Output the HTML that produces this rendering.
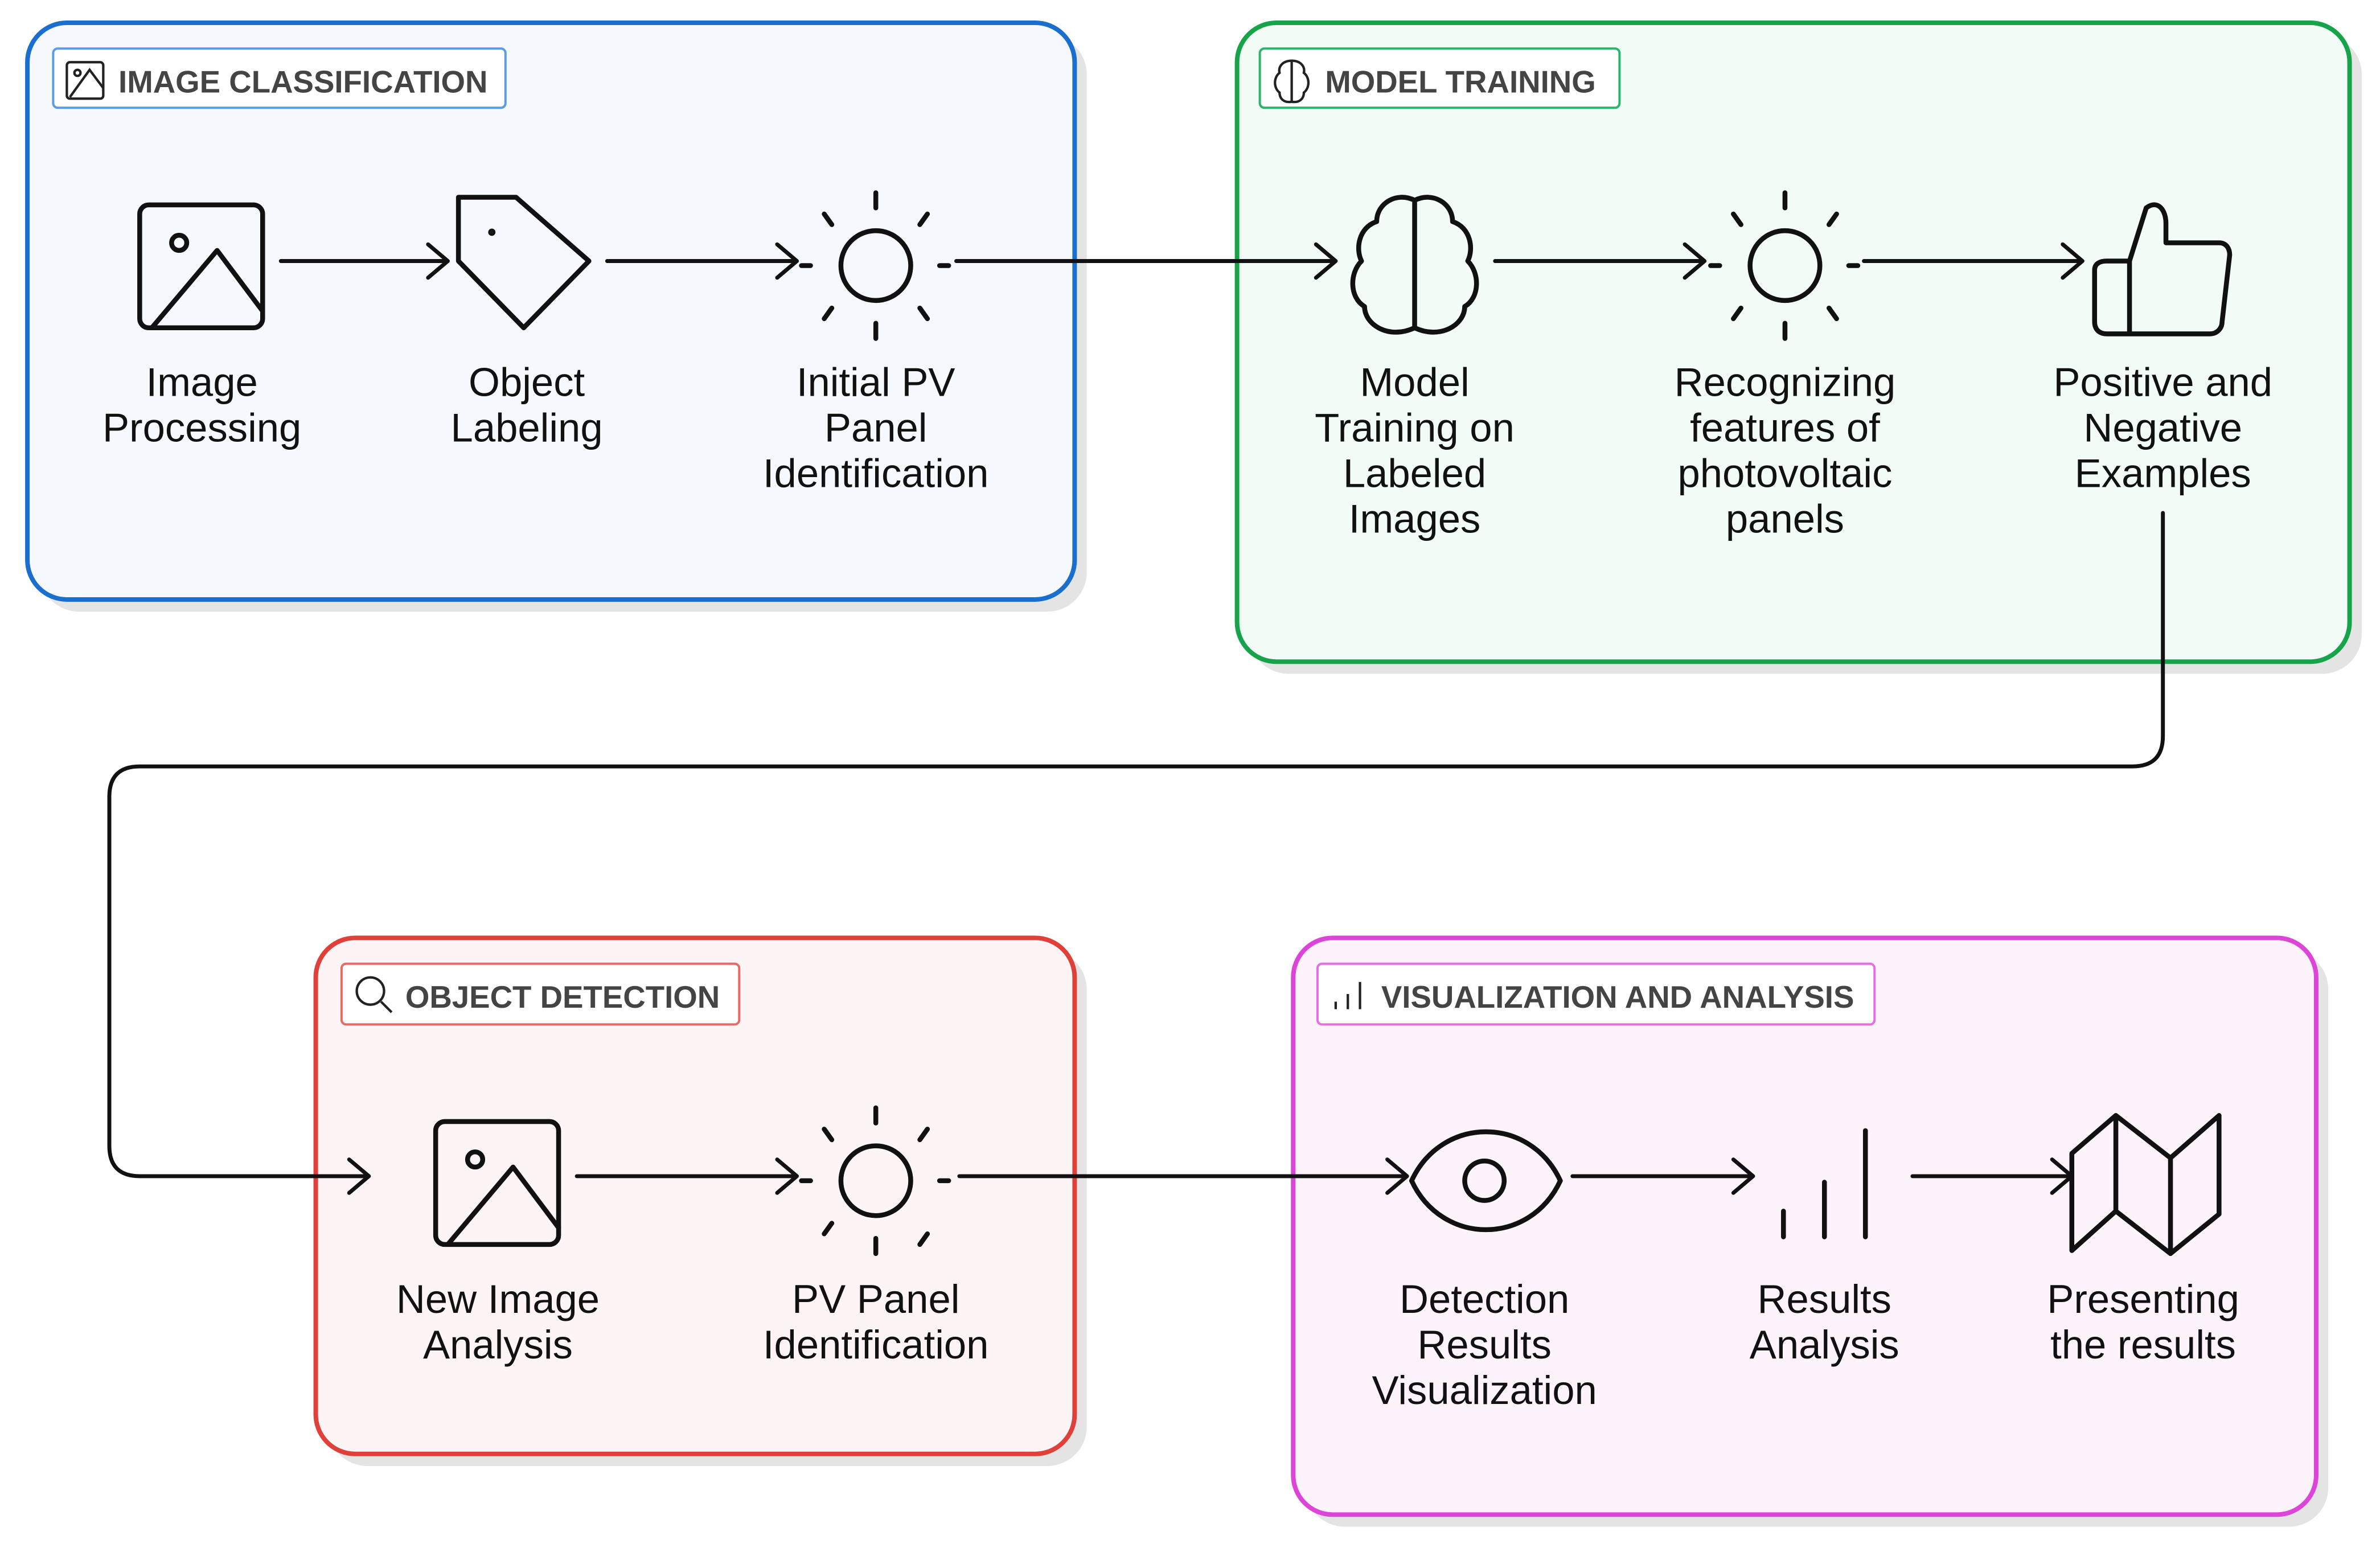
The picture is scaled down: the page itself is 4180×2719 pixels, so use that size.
<!DOCTYPE html>
<html><head><meta charset="utf-8"><style>
html,body{margin:0;padding:0;background:#fff;}
svg{display:block;}
text{font-family:"Liberation Sans",sans-serif;}
.lbl{font-size:26.5px;fill:#111;text-anchor:middle;}
.hd{font-size:20.5px;fill:#444;font-weight:bold;}
.ic{fill:none;stroke:#111;stroke-width:3.2;stroke-linecap:round;stroke-linejoin:round;}
.ar{fill:none;stroke:#111;stroke-width:2.6;stroke-linecap:round;stroke-linejoin:round;}
</style></head><body>
<svg width="4180" height="2719" viewBox="0 0 1568 1020" xmlns="http://www.w3.org/2000/svg">
<rect x="26" y="23" width="690" height="380" rx="26" fill="#e4e4e4"/>
<rect x="823" y="23" width="733" height="421" rx="26" fill="#e4e4e4"/>
<rect x="216" y="626" width="500" height="340" rx="26" fill="#e4e4e4"/>
<rect x="860" y="626" width="674" height="380" rx="26" fill="#e4e4e4"/>
<rect x="18" y="15" width="690" height="380" rx="26" fill="#f5f8fc" stroke="#1a6fce" stroke-width="3"/>
<rect x="815" y="15" width="733" height="421" rx="26" fill="#f2fbf6" stroke="#16a34a" stroke-width="3"/>
<rect x="208" y="618" width="500" height="340" rx="26" fill="#fdf5f5" stroke="#e0403a" stroke-width="3"/>
<rect x="852" y="618" width="674" height="380" rx="26" fill="#fdf4fb" stroke="#dd44d8" stroke-width="3"/>
<rect x="35" y="32" width="298" height="39" rx="3" fill="#fff" stroke="#5a9be6" stroke-width="1.5"/>
<rect x="830" y="32" width="237" height="39" rx="3" fill="#fff" stroke="#2bb56a" stroke-width="1.5"/>
<rect x="225" y="635" width="262" height="40" rx="3" fill="#fff" stroke="#e86a66" stroke-width="1.5"/>
<rect x="868" y="635" width="367" height="40" rx="3" fill="#fff" stroke="#e56ee2" stroke-width="1.5"/>
<text x="78" y="61" class="hd">IMAGE CLASSIFICATION</text>
<text x="873" y="61" class="hd">MODEL TRAINING</text>
<text x="267" y="664" class="hd">OBJECT DETECTION</text>
<text x="910" y="664" class="hd">VISUALIZATION AND ANALYSIS</text>
<g fill="none" stroke="#222" stroke-width="1.6">
<rect x="44" y="41" width="24" height="24" rx="2"/><circle cx="51" cy="48" r="2"/><path d="M46 64 L59 46 L68 58"/>
<path d="M851 40 c-6 0-9 4-8 8 c-4 3-4 10 0 13 c0 4 3 7 8 6 M851 40 c6 0 9 4 8 8 c4 3 4 10 0 13 c0 4-3 7-8 6 M851 40 V67"/>
<circle cx="244" cy="653" r="9"/><path d="M251 660 L258 667"/>
<path d="M880 665 v-5 M888 665 v-10 M896 665 v-18"/>
</g>
<g class="ic">
<rect x="92" y="135" width="81" height="81" rx="6"/><circle cx="118" cy="160" r="5"/><path d="M100 216 L143 165 L173 205"/>
<path d="M302 130 L340 130 L388 172 L345 216 L302 172 Z"/>
<circle cx="324" cy="153" r="0.8" fill="#111"/>
<ellipse cx="577" cy="175" rx="23" ry="23"/>
<path d="M577 127 v10 M577 213 v10 M528 175 h6 M619 175 h6 M543 141 l5 7 M611 141 l-5 7 M543 210 l5 -7 M611 210 l-5 -7"/>
<path d="M932 132 c-12 -6 -25 2 -25 14 c-12 4 -14 18 -10 26 c-8 8 -8 24 2 30 c0 12 16 22 33 14 c17 8 33 -2 33 -14 c10 -6 10 -22 2 -30 c4 -8 2 -22 -10 -26 c0 -12 -13 -20 -25 -14 Z M932 132 V216"/>
<ellipse cx="1176" cy="175" rx="23" ry="23"/>
<path d="M1176 127 v10 M1176 213 v10 M1127 175 h6 M1218 175 h6 M1142 141 l5 7 M1210 141 l-5 7 M1142 210 l5 -7 M1210 210 l-5 -7"/>
<path d="M1403 172 L1414 137 c8 -6 13 2 13 10 V160 h35 c5 0 7 4 7 8 L1464 212 c0 4 -3 8 -8 8 H1388 c-5 0 -8 -3 -8 -8 V178 c0 -4 3 -6 8 -6 Z M1403 172 V220"/>
<rect x="287" y="739" width="81" height="81" rx="6"/><circle cx="313" cy="764" r="5"/><path d="M295 820 L338 769 L368 809"/>
<ellipse cx="577" cy="778" rx="23" ry="23"/>
<path d="M577 730 v10 M577 816 v10 M528 778 h6 M619 778 h6 M543 744 l5 7 M611 744 l-5 7 M543 813 l5 -7 M611 813 l-5 7"/>
<path d="M930 778 C950 735 1008 735 1028 778 C1008 821 950 821 930 778 Z"/><ellipse cx="978" cy="778" rx="13" ry="13"/>
<path d="M1175 815 v-17 M1202 815 v-36 M1229 815 v-70"/>
<path d="M1365 760 L1394 735 L1430 763 L1462 735 V800 L1430 826 L1394 798 L1365 824 Z M1394 735 V798 M1430 763 V826"/>
</g>
<g class="ar">
<path d="M185 172 H295 M282 161 L295 172 L282 183"/>
<path d="M400 172 H525 M512 161 L525 172 L512 183"/>
<path d="M630 172 H880 M867 161 L880 172 L867 183"/>
<path d="M985 172 H1123 M1110 161 L1123 172 L1110 183"/>
<path d="M1228 172 H1372 M1359 161 L1372 172 L1359 183"/>
<path d="M1425 338 V485 Q1425 505 1405 505 H92 Q72 505 72 525 V755 Q72 775 92 775 H243 M230 764 L243 775 L230 786"/>
<path d="M380 775 H525 M512 764 L525 775 L512 786"/>
<path d="M632 775 H927 M914 764 L927 775 L914 786"/>
<path d="M1036 775 H1155 M1142 764 L1155 775 L1142 786"/>
<path d="M1260 775 H1365 M1352 764 L1365 775 L1352 786"/>
</g>
<g class="lbl">
<text x="133" y="261">Image</text><text x="133" y="291">Processing</text>
<text x="347" y="261">Object</text><text x="347" y="291">Labeling</text>
<text x="577" y="261">Initial PV</text><text x="577" y="291">Panel</text><text x="577" y="321">Identification</text>
<text x="932" y="261">Model</text><text x="932" y="291">Training on</text><text x="932" y="321">Labeled</text><text x="932" y="351">Images</text>
<text x="1176" y="261">Recognizing</text><text x="1176" y="291">features of</text><text x="1176" y="321">photovoltaic</text><text x="1176" y="351">panels</text>
<text x="1425" y="261">Positive and</text><text x="1425" y="291">Negative</text><text x="1425" y="321">Examples</text>
<text x="328" y="865">New Image</text><text x="328" y="895">Analysis</text>
<text x="577" y="865">PV Panel</text><text x="577" y="895">Identification</text>
<text x="978" y="865">Detection</text><text x="978" y="895">Results</text><text x="978" y="925">Visualization</text>
<text x="1202" y="865">Results</text><text x="1202" y="895">Analysis</text>
<text x="1412" y="865">Presenting</text><text x="1412" y="895">the results</text>
</g>
</svg>
</body></html>
